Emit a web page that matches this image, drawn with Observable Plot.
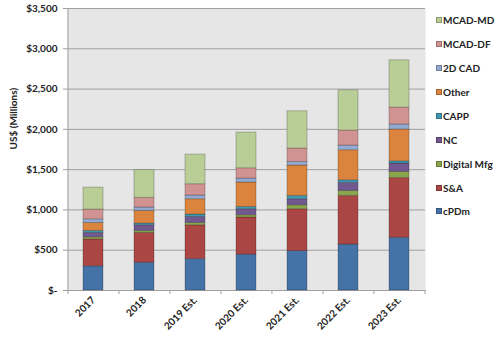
<!DOCTYPE html>
<html>
<head>
<meta charset="utf-8">
<script src="https://cdn.jsdelivr.net/npm/d3@7"></script>
<script src="https://cdn.jsdelivr.net/npm/@observablehq/plot@0.6"></script>
<style>
  html, body { margin: 0; padding: 0; background: #fff; }
  #wrap { position: relative; width: 500px; height: 340px; font-family: Lato, "Liberation Sans", sans-serif; }
  #wrap svg { position: absolute; left: 0; top: 0; }
  #legend { position: absolute; left: 436px; top: 8px; }
  .item { display: flex; align-items: center; height: 23.95px; font-size: 10px; font-weight: bold; color: #222; }
  .sw { width: 6px; height: 6px; margin-right: 1px; box-sizing: border-box; border: 1px solid rgba(0,0,0,0.25); }
</style>
</head>
<body>
<div id="wrap"><div id="legend"></div></div>
<script>
const years = ["2017", "2018", "2019 Est.", "2020 Est.", "2021 Est.", "2022 Est.", "2023 Est."];
const series = ["cPDm", "S&A", "Digital Mfg", "NC", "CAPP", "Other", "2D CAD", "MCAD-DF", "MCAD-MD"];
const colors = ["#4572A7", "#AA4643", "#89A54E", "#71588F", "#4198AF", "#DB843D", "#93A9CF", "#D19392", "#B9CD96"];

const cPDm       = [300, 345, 390, 445, 490, 570, 655];
const sAndA      = [335, 370, 420, 461, 519, 604, 742];
const digitalMfg = [25, 25, 29, 28, 49, 62, 75];
const nc         = [55, 70, 74, 75, 75, 99, 104];
const capp       = [25, 21, 30, 28, 41, 33, 28];
const other      = [98, 157, 190, 303, 377, 373, 394];
const cad2d      = [46, 42, 46, 50, 45, 58, 62];
const mcadDF     = [120, 119, 140, 127, 166, 186, 210];
const mcadMD     = [273, 346, 368, 443, 463, 500, 587];

const yTicks = [0, 500, 1000, 1500, 2000, 2500, 3000, 3500];
const yTitle = "US$ (Millions)";

const valuesBySeries = [cPDm, sAndA, digitalMfg, nc, capp, other, cad2d, mcadDF, mcadMD];
const rows = [];
series.forEach((s, si) => years.forEach((y, yi) => rows.push({year: y, series: s, value: valuesBySeries[si][yi]})));

const step = 358 / years.length;
const font = "Lato, 'Liberation Sans', sans-serif";

const chart = Plot.plot({
  width: 500,
  height: 340,
  marginLeft: 67,
  marginRight: 75,
  marginTop: 8,
  marginBottom: 50,
  style: {fontFamily: font, fontSize: "10px", fontWeight: "bold", color: "#222", background: "transparent"},
  x: {domain: years, paddingInner: 0.6, paddingOuter: 0.3, label: null},
  y: {domain: [0, 3500], label: null},
  color: {domain: series, range: colors},
  marks: [
    Plot.frame({fill: "#e6e6e6", stroke: null}),
    Plot.gridY(yTicks, {stroke: "#a0a0a0", strokeOpacity: 1, strokeWidth: 1}),
    Plot.ruleX([years[0]], {x: d => d, dx: -step / 2, y1: 0, y2: 3500, stroke: "#a0a0a0"}),
    Plot.ruleX(years, {x: d => d, dx: -step / 2, y1: 0, y2: -50, stroke: "#a0a0a0"}),
    Plot.ruleX([years[years.length - 1]], {x: d => d, dx: step / 2, y1: 0, y2: -50, stroke: "#a0a0a0"}),
    Plot.barY(rows, Plot.stackY({order: series}, {x: "year", y: "value", z: "series", fill: "series", stroke: "#000", strokeOpacity: 0.22, strokeWidth: 1})),
    Plot.axisY({ticks: yTicks, tickSize: 4, tickPadding: 6, stroke: "#a0a0a0", fill: "#222",
      tickFormat: d => d === 0 ? "$-" : "$" + d3.format(",")(d), label: null}),
    Plot.text([yTitle], {text: d => d, frameAnchor: "left", rotate: -90, dx: -54, fill: "#222", fontSize: 10, fontWeight: "bold"}),
    Plot.axisX({tickSize: 0, tickRotate: -45, tickPadding: 8, fill: "#222"})
  ]
});
document.getElementById("wrap").appendChild(chart);

const legend = document.getElementById("legend");
series.slice().reverse().forEach(s => {
  const it = document.createElement("div");
  it.className = "item";
  const sw = document.createElement("span");
  sw.className = "sw";
  sw.style.background = colors[series.indexOf(s)];
  it.appendChild(sw);
  it.appendChild(document.createTextNode(s));
  legend.appendChild(it);
});
</script>
</body>
</html>
